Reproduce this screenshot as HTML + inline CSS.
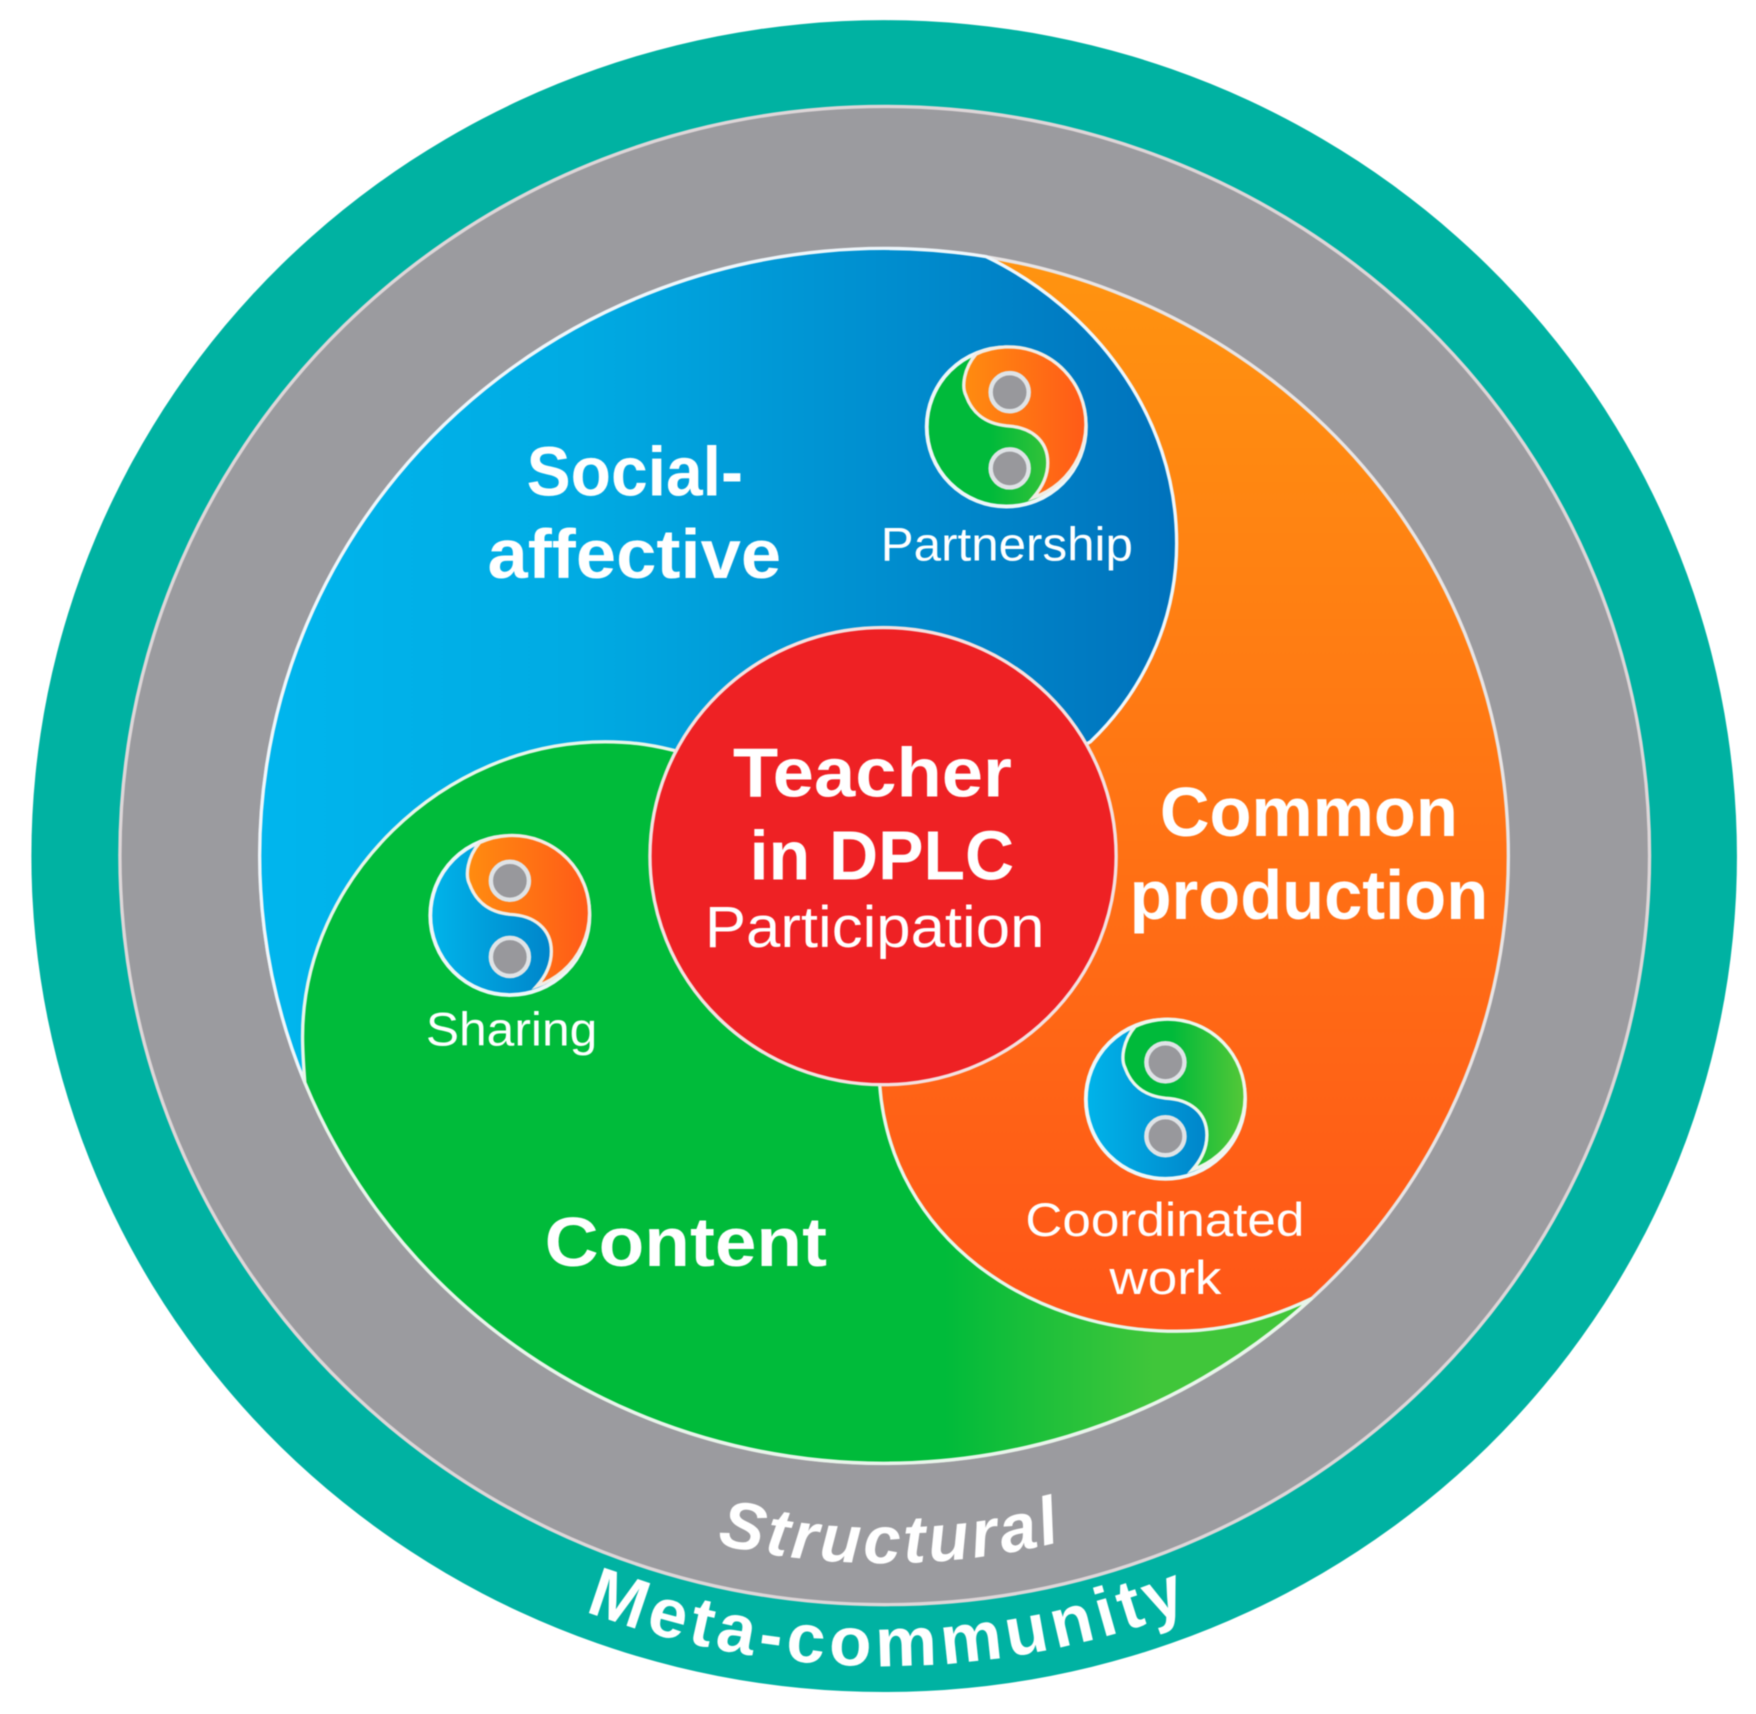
<!DOCTYPE html>
<html><head><meta charset="utf-8">
<style>
html,body{margin:0;padding:0;background:#fff;width:1756px;height:1714px;overflow:hidden}
svg{display:block;filter:blur(.6px)}
text{font-family:"Liberation Sans",sans-serif;fill:#fff}
.b{font-weight:bold;font-size:62px}
.r{font-size:42px}
</style></head>
<body>
<svg width="1756" height="1714" viewBox="0 0 1567 1529.6" preserveAspectRatio="none" xmlns="http://www.w3.org/2000/svg">
<defs>
<linearGradient id="blue" gradientUnits="userSpaceOnUse" x1="232" y1="0" x2="1050" y2="0"><stop offset="0" stop-color="#00b6ee"/><stop offset="0.35" stop-color="#00abe3"/><stop offset="1" stop-color="#0072bc"/></linearGradient>
<linearGradient id="orange" gradientUnits="userSpaceOnUse" x1="0" y1="228" x2="0" y2="1190"><stop offset="0" stop-color="#ff9410"/><stop offset="1" stop-color="#ff5518"/></linearGradient>
<linearGradient id="green" gradientUnits="userSpaceOnUse" x1="0" y1="0" x2="1170" y2="0"><stop offset="0.72" stop-color="#00bb3a"/><stop offset="0.88" stop-color="#40c63a"/></linearGradient>
<linearGradient id="iblue" x1="0" y1="0" x2="1" y2="0"><stop offset="0" stop-color="#00b4ea"/><stop offset="1" stop-color="#0076c0"/></linearGradient>
<linearGradient id="iorange" x1="0" y1="0" x2="1" y2="0"><stop offset="0" stop-color="#ff8c10"/><stop offset="1" stop-color="#ff5a18"/></linearGradient>
<linearGradient id="igreen" x1="0" y1="0" x2="1" y2="0"><stop offset="0.4" stop-color="#00ba3a"/><stop offset="1" stop-color="#55c838"/></linearGradient>
<path id="meta" d="M51,764 A738,723 0 0 0 1527,764"/>
<path id="struct" d="M144,764 A645,631 0 0 0 1434,764"/>
</defs>

<ellipse cx="789" cy="764" rx="761" ry="746" fill="#00b2a2"/>
<ellipse cx="789.5" cy="763.5" rx="682.5" ry="668.5" fill="#9b9b9f" stroke="#ddd6d8" stroke-width="3"/>

<!-- inner disc -->
<ellipse cx="789" cy="764" rx="557" ry="542" fill="url(#orange)" stroke="#e8e4e4" stroke-width="3"/>

<!-- blue lobe -->
<path d="M880,229 C975,275 1050,370 1050,485 C1050,560 1015,622 973,662 L789,764 L272,966 A557,542 0 0 1 880,229 Z" fill="url(#blue)" stroke="#eef6fb" stroke-width="3" stroke-linejoin="round"/>

<!-- green lobe -->
<path d="M610,672 C585,665 565,662 540,662 C395,662 270,785 270,925 C270,940 271,952 272,966 A557,542 0 0 0 1170,1159 C1130,1178 1090,1188 1050,1188 C920,1188 795,1105 785,968 L789,764 Z" fill="url(#green)" stroke="#e8f5ea" stroke-width="3" stroke-linejoin="round"/>

<!-- red -->
<ellipse cx="788" cy="764" rx="208" ry="204" fill="#ee2124" stroke="#f4e0e0" stroke-width="3"/>

<!-- icons -->
<g transform="translate(898,381)">
<circle r="71" fill="url(#igreen)" stroke="#eef6f8" stroke-width="3.5"/>
<path d="M-27,-65 C-38,-52 -40,-36 -36,-28 C-31,-14 -20,-3 0,-1 C22,0 37,12 37,32 C37,44 32,54 24,63 A69,69 0 1 0 -27,-65 Z" fill="url(#iorange)" stroke="#f2ece4" stroke-width="3"/>
<circle cx="3" cy="-31" r="17" fill="#98989c" stroke="#dfe3e6" stroke-width="4"/>
<circle cx="3" cy="37" r="17" fill="#98989c" stroke="#dfe3e6" stroke-width="4"/>
</g>
<g transform="translate(455,817)">
<circle r="71" fill="url(#iblue)" stroke="#eef6f8" stroke-width="3.5"/>
<path d="M-27,-65 C-38,-52 -40,-36 -36,-28 C-31,-14 -20,-3 0,-1 C22,0 37,12 37,32 C37,44 32,54 24,63 A69,69 0 1 0 -27,-65 Z" fill="url(#iorange)" stroke="#f2ece4" stroke-width="3"/>
<circle cx="0" cy="-31" r="17" fill="#98989c" stroke="#dfe3e6" stroke-width="4"/>
<circle cx="0" cy="37" r="17" fill="#98989c" stroke="#dfe3e6" stroke-width="4"/>
</g>
<g transform="translate(1040,981)">
<circle r="71" fill="url(#iblue)" stroke="#eef6f8" stroke-width="3.5"/>
<path d="M-27,-65 C-38,-52 -40,-36 -36,-28 C-31,-14 -20,-3 0,-1 C22,0 37,12 37,32 C37,44 32,54 24,63 A69,69 0 1 0 -27,-65 Z" fill="url(#igreen)" stroke="#eef6ec" stroke-width="3"/>
<circle cx="0" cy="-33" r="17" fill="#98989c" stroke="#dfe3e6" stroke-width="4"/>
<circle cx="0" cy="33" r="17" fill="#98989c" stroke="#dfe3e6" stroke-width="4"/>
</g>

<!-- labels -->
<text class="b" x="470" y="442" textLength="193" lengthAdjust="spacingAndGlyphs">Social-</text>
<text class="b" x="435" y="516" textLength="262" lengthAdjust="spacingAndGlyphs">affective</text>
<text class="r" x="786" y="500" textLength="225" lengthAdjust="spacingAndGlyphs">Partnership</text>
<text class="b" x="1035" y="746" textLength="266" lengthAdjust="spacingAndGlyphs">Common</text>
<text class="b" x="1008" y="820" textLength="320" lengthAdjust="spacingAndGlyphs">production</text>
<text class="b" x="654" y="711" textLength="249" lengthAdjust="spacingAndGlyphs">Teacher</text>
<text class="b" x="669" y="785" textLength="236" lengthAdjust="spacingAndGlyphs">in DPLC</text>
<text x="629" y="845" font-size="52" textLength="303" lengthAdjust="spacingAndGlyphs">Participation</text>
<text class="r" x="380" y="933" textLength="153" lengthAdjust="spacingAndGlyphs">Sharing</text>
<text class="r" x="915" y="1103" textLength="249" lengthAdjust="spacingAndGlyphs">Coordinated</text>
<text class="r" x="990" y="1155" textLength="100" lengthAdjust="spacingAndGlyphs">work</text>
<text class="b" x="486" y="1130" textLength="252" lengthAdjust="spacingAndGlyphs">Content</text>

<text font-size="60" font-weight="bold" font-style="italic" text-anchor="middle" letter-spacing="3"><textPath href="#struct" startOffset="50.3%">Structural</textPath></text>
<text font-size="62" font-weight="bold" text-anchor="middle" letter-spacing="4.5"><textPath href="#meta" startOffset="50.2%">Meta-community</textPath></text>
</svg>
</body></html>
